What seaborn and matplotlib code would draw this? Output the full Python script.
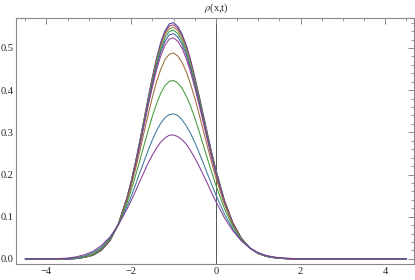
import pandas as pd
import matplotlib
matplotlib.use("Agg")
import matplotlib.pyplot as plt
import seaborn as sns
from matplotlib.ticker import MultipleLocator, FormatStrFormatter

# sample points along x
x_vals = [-4.5, -3.9, -3.7, -3.5, -3.3, -3.1, -2.9, -2.7, -2.5, -2.3, -2.1,
          -2.0, -1.9, -1.8, -1.7, -1.6, -1.5, -1.4, -1.3, -1.2, -1.1, -1.0,
          -0.9, -0.8, -0.7, -0.6, -0.5, -0.4, -0.3, -0.2, -0.1, 0.0,
          0.2, 0.4, 0.6, 0.8, 1.0, 1.2, 1.4, 1.6, 1.8, 2.0, 4.5]

# rho(x,t), in units of 0.001 (tallest curve first)
rho_1 = [0, 0, 0, 0, 1, 4, 9, 21, 44, 83, 145, 184, 229, 278, 329, 381, 431, 476, 514, 541, 557, 560,
         551, 533, 507, 473, 433, 389, 344, 298, 253, 212, 140, 86, 49, 26, 13, 6, 2, 1, 0, 0, 0]
rho_2 = [0, 0, 0, 0, 1, 4, 9, 21, 44, 83, 144, 183, 228, 276, 327, 379, 428, 472, 509, 536, 552, 555,
         546, 529, 502, 469, 429, 386, 341, 296, 252, 210, 139, 86, 49, 26, 13, 6, 3, 1, 0, 0, 0]
rho_3 = [0, 0, 0, 0, 1, 4, 9, 21, 44, 83, 144, 183, 226, 274, 325, 375, 424, 468, 504, 531, 546, 549,
         541, 523, 497, 464, 425, 382, 338, 293, 250, 209, 138, 85, 49, 26, 13, 6, 3, 1, 0, 0, 0]
rho_4 = [0, 0, 0, 0, 1, 4, 9, 21, 44, 83, 143, 182, 225, 272, 322, 372, 419, 462, 498, 524, 539, 542,
         534, 517, 491, 458, 420, 378, 334, 290, 247, 207, 137, 85, 49, 26, 13, 6, 3, 1, 0, 0, 0]
rho_5 = [0, 0, 0, 0, 1, 4, 9, 21, 44, 83, 143, 180, 223, 269, 318, 367, 414, 456, 491, 516, 531, 534,
         526, 509, 484, 452, 414, 373, 330, 287, 245, 205, 136, 84, 49, 26, 13, 6, 3, 1, 0, 0, 0]
rho_6 = [0, 0, 0, 0, 1, 4, 10, 22, 44, 83, 142, 179, 221, 266, 314, 362, 407, 448, 482, 507, 521, 524,
         516, 500, 475, 444, 407, 367, 325, 282, 241, 202, 135, 84, 48, 26, 13, 6, 3, 1, 0, 0, 0]
rho_7 = [0, 0, 0, 1, 2, 4, 10, 23, 45, 83, 138, 173, 212, 254, 298, 341, 383, 420, 450, 473, 485, 488,
         481, 466, 444, 415, 382, 345, 306, 267, 229, 193, 130, 81, 48, 26, 13, 6, 3, 1, 0, 0, 0]
rho_8 = [0, 0, 0, 1, 2, 5, 12, 25, 47, 82, 132, 163, 196, 232, 268, 304, 338, 368, 393, 411, 421, 423,
         417, 405, 386, 363, 335, 304, 271, 238, 206, 175, 120, 77, 46, 26, 14, 7, 3, 1, 1, 0, 0]
rho_9 = [0, 0, 1, 1, 3, 7, 15, 28, 50, 81, 124, 148, 175, 203, 230, 257, 282, 304, 322, 335, 342, 344,
         340, 330, 316, 298, 277, 253, 228, 202, 177, 152, 107, 71, 44, 26, 14, 7, 4, 2, 1, 0, 0]
rho_10 = [0, 0, 1, 2, 5, 10, 18, 32, 52, 81, 118, 138, 160, 183, 205, 227, 246, 263, 277, 287, 293, 294,
          290, 283, 272, 257, 240, 221, 200, 179, 157, 136, 98, 67, 43, 26, 15, 8, 4, 2, 1, 0, 0]

curves = [rho_1, rho_2, rho_3, rho_4, rho_5, rho_6, rho_7, rho_8, rho_9, rho_10]

# old Mathematica default plot colours
colors = ["#3F3D99", "#993D71", "#998B3D", "#3D9956", "#3D5A99",
          "#993D8F", "#996D3D", "#43993D", "#3D7899", "#843D99"]

# long table for seaborn
rows = []
for i, ys in enumerate(curves):
    for xv, yv in zip(x_vals, ys):
        rows.append((i, xv, yv / 1000))
df = pd.DataFrame(rows, columns=["curve", "x", "rho"])

sns.set_style("white")
plt.rcParams["font.family"] = ["Liberation Serif", "DejaVu Serif"]
plt.rcParams["mathtext.fontset"] = "stix"

fig = plt.figure(figsize=(4.15, 2.8), dpi=100)
ax = fig.add_axes([16 / 415, 16 / 280, 398 / 415, 246 / 280])
sns.lineplot(data=df, x="x", y="rho", hue="curve", palette=colors,
             legend=False, linewidth=0.75, ax=ax)
ax.axvline(0, color="#555555", linewidth=0.7, zorder=0)

ax.set_xlim(-4.72, 4.68)
ax.set_ylim(-0.012, 0.571)
ax.set_xlabel("")
ax.set_ylabel("")

# frame with inward ticks on all sides
ax.xaxis.set_major_locator(MultipleLocator(2))
ax.xaxis.set_minor_locator(MultipleLocator(0.5))
ax.yaxis.set_major_locator(MultipleLocator(0.1))
ax.yaxis.set_minor_locator(MultipleLocator(0.02))
ax.yaxis.set_major_formatter(FormatStrFormatter("%.1f"))
ax.tick_params(which="both", direction="in", top=True, right=True,
               color="#888888", labelsize=7.5, labelcolor="#222222", pad=2)
ax.tick_params(which="major", length=4, width=0.7)
ax.tick_params(which="minor", length=2, width=0.6)
for sp in ax.spines.values():
    sp.set_color("#888888")
    sp.set_linewidth(0.8)

ax.text(0, 1.04, r"$\rho$(x,t)", transform=ax.get_xaxis_transform(),
        ha="center", va="center", fontsize=7.5)

fig.savefig("out.png", dpi=100)
